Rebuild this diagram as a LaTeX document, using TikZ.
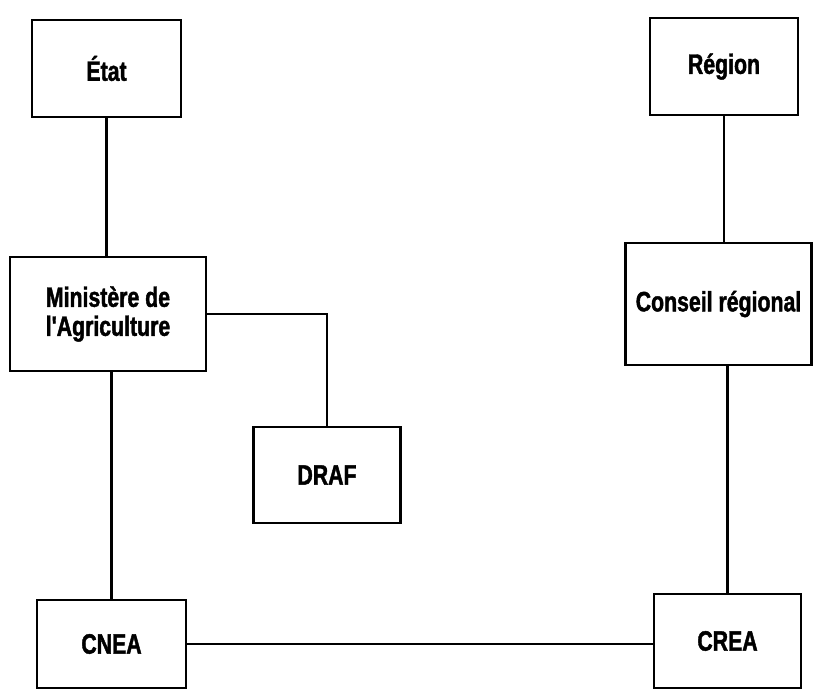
\documentclass[tikz,border=0pt]{standalone}
\usepackage{fontspec}
\newfontfamily\lab[FakeStretch=0.76,FakeBold=1.5]{Liberation Sans}
\begin{document}
\begin{tikzpicture}[x=1pt,y=-1pt,
  box/.style={draw=black, line width=2.2pt, rectangle, inner sep=0pt, align=center,
    font=\lab\bfseries\fontsize{28}{29}\selectfont},
  link/.style={draw=black, line width=2.2pt}]
\useasboundingbox[fill=white] (0,0) rectangle (813,690);
\node[box, minimum width=149, minimum height=97] (etat) at (106.5,68.5) {État};
\node[box, minimum width=148, minimum height=97] (reg) at (724,66.5) {Région};
\node[box, minimum width=196, minimum height=114] (min) at (108,314) {Ministère de\\l'Agriculture};
\node[box, minimum width=186, minimum height=122] (cons) at (718.5,304) {Conseil régional};
\node[box, minimum width=147, minimum height=96] (draf) at (327,475) {DRAF};
\node[box, minimum width=149, minimum height=88] (cnea) at (111.5,644) {CNEA};
\node[box, minimum width=147, minimum height=94] (crea) at (727.5,641) {CREA};
\draw[link] (etat.south) -- (etat.south |- min.north);
\draw[link] (min.east) -| (draf.north);
\draw[link] (cnea.north) -- (cnea.north |- min.south);
\draw[link] (reg.south) -- (reg.south |- cons.north);
\draw[link] (crea.north) -- (crea.north |- cons.south);
\draw[link] (cnea.east) -- (cnea.east -| crea.west);
\end{tikzpicture}
\end{document}
